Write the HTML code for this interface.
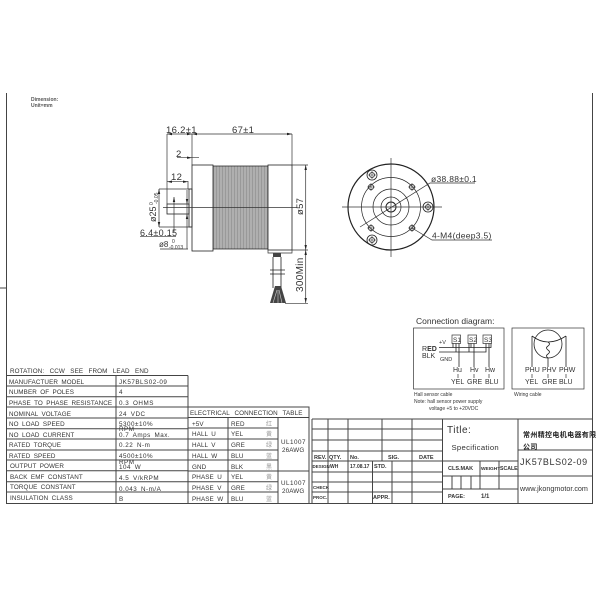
<!DOCTYPE html>
<html><head><meta charset="utf-8">
<style>
html,body{margin:0;padding:0;background:#fff;width:600px;height:600px;overflow:hidden}
svg{display:block;filter:blur(.3px)}
text{font-family:"Liberation Sans","Noto Sans CJK SC",sans-serif;fill:#333}
.t{font-size:6.3px;letter-spacing:.1px;word-spacing:1.5px}
.v{font-size:6.3px;letter-spacing:.5px;word-spacing:1.5px}
.c{font-size:6px;fill:#999}
.d{font-size:9.5px;letter-spacing:.3px}
.s{font-size:5px;font-weight:bold}
.l{stroke:#444;stroke-width:1;fill:none}
.k{stroke:#222;stroke-width:.8;fill:none}
.n{stroke:#333;stroke-width:.7;fill:none}
</style></head><body>
<svg width="600" height="600" viewBox="0 0 600 600">
<rect width="600" height="600" fill="#fff"/>
<!-- frame -->
<path class="l" d="M6.500 93V503.500H592.500V93M0 288H6"/>
<text x="31" y="101" style="font-size:5px;font-weight:bold;fill:#555">Dimension:</text>
<text x="31" y="107" style="font-size:5px;font-weight:bold;fill:#555">Unit=mm</text>

<!-- motor side view -->
<rect x="213" y="166" width="55" height="83" fill="#999"/>
<path stroke="#d8d8d8" stroke-width=".7" d="M215 166v83M218 166v83M221 166v83M224 166v83M227 166v83M230 166v83M233 166v83M236 166v83M239 166v83M242 166v83M245 166v83M248 166v83M251 166v83M254 166v83M257 166v83M260 166v83M263 166v83M266 166v83"/>
<path class="k" d="M213 166H268M213 249H268"/>
<rect class="k" x="192" y="165" width="21" height="86"/>
<rect class="k" x="268" y="165" width="24" height="85"/>
<path class="n" d="M268 250v3h24v-3"/>
<rect class="k" x="189" y="189" width="3" height="38"/>
<rect class="k" x="167" y="204" width="22" height="10"/>
<path class="n" d="M163 207.500H297"/>
<!-- cable -->
<rect x="273" y="253" width="8" height="4" fill="#444"/>
<path class="k" d="M273 257V288M281 257V288M270 270H285M270 274H285"/>
<path d="M275 286h6l5 17h-16z" fill="#444"/>
<path stroke="#ccc" stroke-width=".6" d="M277 290l-4 13M279 290l3 13M278 290v13"/>
<!-- dimensions -->
<path class="n" d="M167 134H292M192 134V165M292 134V165M167 134V204M177 157.700H199M192 151V165M167 181.700H188M188 181V189M159 189H192M159 227H192M159 189V227M174 197V232M140 236.700H176M160 249H188M187 190V249M292 165H308M292 250H308M285 303.700H308M305.700 165V303"/>
<path d="M167 134l5-1.200v2.400zM192 134l-5-1.200v2.400zM192 134l5-1.200v2.400zM292 134l-5-1.200v2.400zM192 157.700l-5-1.200v2.400zM167 181.700l5-1.200v2.400zM188 181.700l-5-1.200v2.400zM159 189l-1.200 5h2.400zM159 227l-1.200-5h2.400zM305.700 165l-1.200 5h2.400zM305.700 250l-1.200-5h2.400zM305.700 250l-1.200 5h2.400zM305.700 303l-1.200-5h2.400zM174 197l-1.200 5h2.400zM187 204l-1.200-5h2.400zM187 214l-1.200 5h2.400z" fill="#222"/>
<text class="d" x="166" y="133">16.2±1</text>
<text class="d" x="232" y="133">67±1</text>
<text class="d" x="176" y="157">2</text>
<text class="d" x="171" y="180">12</text>
<text class="d" x="140" y="236" style="font-size:9px">6.4±0.15</text>
<text x="159" y="247" style="font-size:8px">ø8</text>
<text x="172" y="243" style="font-size:5px">0</text>
<text x="169" y="249" style="font-size:5px">-0.013</text>
<text transform="translate(156,222) rotate(-90)" style="font-size:9px">ø25</text>
<text transform="translate(153,205) rotate(-90)" style="font-size:5px">0</text>
<text transform="translate(158,204) rotate(-90)" style="font-size:5px">-0.05</text>
<text class="d" transform="translate(303,215) rotate(-90)">ø57</text>
<text class="d" transform="translate(303,292) rotate(-90)" style="font-size:10px">300Min</text>

<!-- front view -->
<g class="k">
<circle cx="391" cy="207" r="43" style="stroke-width:1.200"/>
<circle cx="391" cy="207" r="29.500" style="stroke-width:.7"/>
<circle cx="391" cy="207" r="18" style="stroke-width:.7"/>
<circle cx="391" cy="207" r="10" style="stroke-width:.7"/>
<circle cx="391" cy="207" r="5" style="stroke-width:1"/>
<circle cx="372" cy="175" r="5"/><circle cx="372" cy="175" r="2.500"/>
<circle cx="428" cy="207" r="5"/><circle cx="428" cy="207" r="2.500"/>
<circle cx="372" cy="240" r="5"/><circle cx="372" cy="240" r="2.500"/>
<circle cx="371" cy="187" r="2.600"/><circle cx="412" cy="187" r="2.600"/><circle cx="371" cy="228" r="2.600"/><circle cx="412" cy="228" r="2.600"/>
</g>
<path stroke="#333" stroke-width=".6" d="M368 175h8M372 171v8M424 207h8M428 203v8M368 240h8M372 236v8M367 187h8M371 183v8M408 187h8M412 183v8M367 228h8M371 224v8M408 228h8M412 224v8"/>
<path class="n" d="M342 207H442M391 158V257M360 227L430 183H475M412 228L432 240H492"/>
<text class="d" x="431" y="182" style="font-size:8.500px">ø38.88±0.1</text>
<text class="d" x="432" y="238.500" style="font-size:8.500px">4-M4(deep3.5)</text>

<!-- connection diagrams -->
<text x="416" y="324" style="font-size:8.500px">Connection diagram:</text>
<rect class="n" x="413.500" y="328" width="90.500" height="61"/>
<rect class="n" x="512" y="328" width="72" height="61"/>
<rect class="n" x="452" y="335" width="8.500" height="8.500"/>
<rect class="n" x="468" y="335" width="8.500" height="8.500"/>
<rect class="n" x="483" y="335" width="8.500" height="8.500"/>
<text x="453" y="342" style="font-size:6.500px">S1</text>
<text x="469" y="342" style="font-size:6.500px">S2</text>
<text x="484" y="342" style="font-size:6.500px">S3</text>
<path class="k" d="M439 347.500H491V343.500M439 352H486V343.500M453 347.500V343.500M456 352V343.500M471 347.500V343.500M469 352V343.500M459 343.500V367M474 343.500V367M489 343.500V367"/>
<text x="439" y="344" style="font-size:5.500px">+V</text>
<text x="440" y="361" style="font-size:5.500px">GND</text>
<text x="422" y="351" style="font-size:7px">R<tspan style="font-weight:bold">ED</tspan></text>
<text x="422" y="358" style="font-size:7px">BLK</text>
<text x="453" y="372" style="font-size:7px">Hu</text>
<text x="470" y="372" style="font-size:7px">Hv</text>
<text x="485" y="372" style="font-size:7px">Hw</text>
<path class="n" d="M458 374V378M474 374V378M489 374V378"/>
<text x="451" y="384" style="font-size:7px">YEL</text>
<text x="467" y="384" style="font-size:7px">GRE</text>
<text x="485" y="384" style="font-size:7px">BLU</text>
<circle class="k" cx="548" cy="344" r="14"/>
<path class="k" d="M532 336Q540 342 548 342Q557 342 566 336M532 336V367M566 336V367M548 342Q551 344 548 346Q545 348 548 350Q551 352 548 354Q545 356 548 358V367"/>
<text x="525" y="372" style="font-size:7px">PHU</text>
<text x="542" y="372" style="font-size:7px">PHV</text>
<text x="559" y="372" style="font-size:7px">PHW</text>
<path class="n" d="M532 374V378M548 374V378M566 374V378"/>
<text x="525" y="384" style="font-size:7px">YEL</text>
<text x="542" y="384" style="font-size:7px">GRE</text>
<text x="559" y="384" style="font-size:7px">BLU</text>
<text x="414" y="396" style="font-size:5px">Hall sensor cable</text>
<text x="414" y="403" style="font-size:5px">Note: hall sensor power supply</text>
<text x="429" y="410" style="font-size:5px">voltage +5 to +20VDC</text>
<text x="514" y="396" style="font-size:5px">Wiring cable</text>

<!-- spec table -->
<path class="l" d="M7 375.500H188M7 386H188M7 396.700H188M7 407H188M7 418H188M7 428.700H188M7 439H188M7 450H188M7 460H188M7 470.700H188M7 481.700H188M7 492H188M116 375.500V503M188 375.500V503"/>
<text class="t" x="10" y="373" style="word-spacing:3.500px">ROTATION: CCW SEE FROM LEAD END</text>
<text class="t" x="9" y="384">MANUFACTUER MODEL</text><text class="v" x="119" y="384">JK57BLS02-09</text>
<text class="t" x="9" y="394">NUMBER OF POLES</text><text class="v" x="119" y="394">4</text>
<text class="t" x="9" y="405">PHASE TO PHASE RESISTANCE</text><text class="v" x="119" y="405">0.3 OHMS</text>
<text class="t" x="9" y="416">NOMINAL VOLTAGE</text><text class="v" x="119" y="416">24 VDC</text>
<text class="t" x="9" y="426">NO LOAD SPEED</text><text class="v" x="119" y="426">5300±10%</text>
<text class="t" x="9" y="437">NO LOAD CURRENT</text><text class="v" x="119" y="431">RPM</text><text class="v" x="119" y="437">0.7 Amps Max.</text>
<text class="t" x="9" y="447">RATED TORQUE</text><text class="v" x="119" y="447">0.22 N-m</text>
<text class="t" x="9" y="458">RATED SPEED</text><text class="v" x="119" y="458">4500±10%</text>
<text class="t" x="10" y="468">OUTPUT POWER</text><text class="v" x="119" y="464">RPM</text><text class="v" x="119" y="469">104 W</text>
<text class="t" x="10" y="479">BACK EMF CONSTANT</text><text class="v" x="119" y="480">4.5 V/kRPM</text>
<text class="t" x="10" y="489">TORQUE CONSTANT</text><text class="v" x="119" y="491">0.043 N-m/A</text>
<text class="t" x="10" y="500">INSULATION CLASS</text><text class="v" x="119" y="501">B</text>

<!-- electrical table -->
<path class="l" d="M188 407H309V503M188 417.500H309M188 428H278M188 439H278M188 450H278M188 460H278M188 471H309M188 481.700H278M188 492H278M228 417.500V503M278 417.500V503"/>
<text class="t" x="190" y="415" style="word-spacing:3px">ELECTRICAL CONNECTION TABLE</text>
<text class="t" x="192" y="426">+5V</text><text class="t" x="231" y="426">RED</text><text class="c" x="266" y="426">红</text>
<text class="t" x="192" y="436">HALL U</text><text class="t" x="231" y="436">YEL</text><text class="c" x="266" y="436">黄</text>
<text class="t" x="192" y="447">HALL V</text><text class="t" x="231" y="447">GRE</text><text class="c" x="266" y="447">绿</text>
<text class="t" x="192" y="458">HALL W</text><text class="t" x="231" y="458">BLU</text><text class="c" x="266" y="458">蓝</text>
<text class="t" x="192" y="469">GND</text><text class="t" x="231" y="469">BLK</text><text class="c" x="266" y="469">黑</text>
<text class="t" x="192" y="479">PHASE U</text><text class="t" x="231" y="479">YEL</text><text class="c" x="266" y="479">黄</text>
<text class="t" x="192" y="490">PHASE V</text><text class="t" x="231" y="490">GRE</text><text class="c" x="266" y="490">绿</text>
<text class="t" x="192" y="501">PHASE W</text><text class="t" x="231" y="501">BLU</text><text class="c" x="266" y="501">蓝</text>
<text class="v" x="281" y="444">UL1007</text><text class="t" x="282" y="452">26AWG</text>
<text class="v" x="281" y="485">UL1007</text><text class="t" x="282" y="493">20AWG</text>

<!-- revision block -->
<path class="l" d="M312 419H592.500M312 429H442M312 440H442M312 451H442M312 461H442M312 472H442M312 482H442M312 492H442M312 419V503M328 419V503M348 419V503M372.500 461V503M382 419V461M392 461V503M412 419V503M442.500 419V503M518 419V503M442.500 461H518M442.500 476H518M442.500 489H518M452 476V489M461 476V489M471 476V489M480 461V489M499 461V489M518 450H592.500M518 476H592.500"/>
<text x="314" y="459" style="font-size:5.500px;font-weight:bold">REV.</text>
<text x="329" y="459" style="font-size:5.500px;font-weight:bold">QTY.</text>
<text x="350" y="459" style="font-size:5.500px;font-weight:bold">No.</text>
<text x="388" y="459" style="font-size:5.500px;font-weight:bold">SIG.</text>
<text x="419" y="459" style="font-size:5.500px;font-weight:bold">DATE</text>
<text class="s" x="312.500" y="468" style="font-size:4.500px">DESIGN</text>
<text class="s" x="330" y="468">WH</text>
<text class="s" x="350" y="468">17.08.17</text>
<text x="374" y="468" style="font-size:5.500px;font-weight:bold">STD.</text>
<text class="s" x="313" y="489" style="font-size:4.500px">CHECK</text>
<text class="s" x="313" y="499" style="font-size:4.500px">PROC.</text>
<text x="373" y="499" style="font-size:5.500px;font-weight:bold">APPR.</text>
<text x="447" y="433" style="font-size:10px;letter-spacing:.5px">Title:</text>
<text x="451.500" y="450" style="font-size:7.700px;letter-spacing:.3px">Specification</text>
<text class="s" x="448" y="470" style="font-size:5.500px">CLS.MAK</text>
<text class="s" x="481" y="470" style="font-size:4.800px">WEIGHT</text>
<text class="s" x="500" y="470" style="font-size:5.200px">SCALE</text>
<text class="s" x="448" y="498" style="font-size:5.500px">PAGE:</text>
<text x="481" y="498" style="font-size:6px;font-weight:bold">1/1</text>
<text x="523" y="437" style="font-size:7px;font-weight:bold;letter-spacing:.35px;fill:#222">常州精控电机电器有限</text>
<text x="523" y="449" style="font-size:7px;font-weight:bold;letter-spacing:.35px;fill:#222">公司</text>
<text x="520" y="465" style="font-size:9px;letter-spacing:.6px">JK57BLS02-09</text>
<text x="520" y="491" style="font-size:7.200px">www.jkongmotor.com</text>
</svg>
</body></html>
